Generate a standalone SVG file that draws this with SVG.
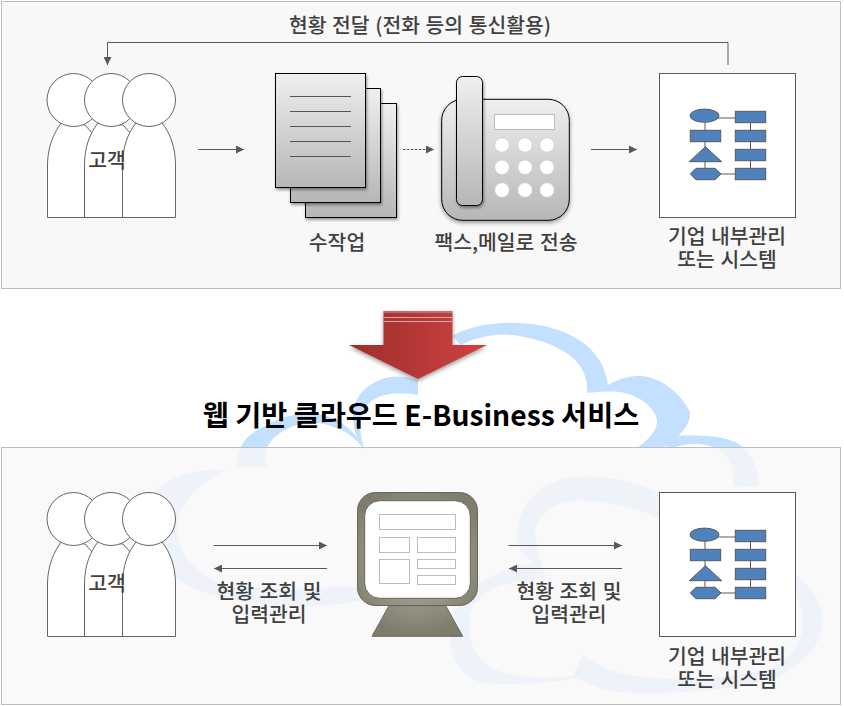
<svg xmlns="http://www.w3.org/2000/svg" xmlns:xlink="http://www.w3.org/1999/xlink" width="844" height="706" viewBox="0 0 844 706">
<style>
text{font-family:"Noto Sans CJK KR","Noto Sans",sans-serif;font-weight:500;fill:#404040;text-anchor:middle;font-size:20.4px;word-spacing:1px}
.title{fill:#000;font-weight:700;font-size:28.3px;word-spacing:0}
.panel{fill:#f7f7f7;fill-opacity:.8;stroke:#bebebe;stroke-width:1}
.cl{fill:#c4e0ff}
.p{fill:#fff;stroke:#666;stroke-width:1}
.conn{fill:none;stroke:#595959;stroke-width:1;marker-end:url(#ah)}
.fs{fill:#4f81bd;stroke:#5a5a5a;stroke-width:1}
.fl{stroke:#5a5a5a;stroke-width:1;fill:none}
.sheet{fill:url(#gs);stroke:#000;stroke-width:1;filter:url(#sh)}
.rule{stroke:#555;stroke-width:1}
.btn{fill:#fff;stroke:#ccc;stroke-width:.8}
.mr{fill:#fff;stroke:#bdbdbd;stroke-width:1}
</style>
<defs>
<marker id="ah" markerUnits="userSpaceOnUse" markerWidth="9" markerHeight="8" refX="8" refY="4" orient="auto"><path d="M0,0L8,4L0,8Z" fill="#595959"/></marker>
<linearGradient id="gs" x1="0" y1="0" x2="0" y2="1"><stop offset="0" stop-color="#efefef"/><stop offset="1" stop-color="#b6b6b6"/></linearGradient>
<linearGradient id="gr" x1="0" y1="0" x2="1" y2="0"><stop offset="0" stop-color="#9c2e2c"/><stop offset="1" stop-color="#d04242"/></linearGradient>
<radialGradient id="gm" gradientUnits="userSpaceOnUse" cx="417" cy="560" r="75"><stop offset="0" stop-color="#bdb9a6"/><stop offset="1" stop-color="#7f7c6c"/></radialGradient>
<filter id="sh" x="-10%" y="-10%" width="125%" height="125%"><feDropShadow dx="1" dy="2" stdDeviation="1.5" flood-color="#000" flood-opacity=".4"/></filter>
<filter id="sh2" x="-10%" y="-10%" width="120%" height="125%"><feDropShadow dx="0" dy="2" stdDeviation="2" flood-color="#000" flood-opacity=".4"/></filter>
<g id="people">
<path class="p" d="M47.5,217.5V165C47.5,147 54,132 62,122L85,125L93,134L100,217.5Z"/>
<circle class="p" cx="73.5" cy="100" r="26.5"/>
<path class="p" d="M84.5,217.5V165C84.5,147 90,133 98,123L123,125L131,134L138,217.5Z"/>
<circle class="p" cx="111" cy="100" r="26.5"/>
<path class="p" d="M122.5,217.5V165C122.5,147 128,133 136,123L162,123C170,133 175.5,147 175.5,165V217.5Z"/>
<circle class="p" cx="149" cy="100" r="26.5"/>
</g>
<g id="flow">
<path class="fl" d="M705,116V174M750.5,116V174M705,118H736M705,174H736"/>
<ellipse class="fs" cx="704.5" cy="115.7" rx="14.5" ry="6.6"/>
<rect class="fs" x="690.3" y="130.3" width="30.4" height="11.4"/>
<path class="fs" d="M705.4,146.7L721.7,161.7H689.3Z"/>
<path class="fs" d="M696,168.3H715L721,174L715,179.7H696L690.3,174Z"/>
<rect class="fs" x="735.3" y="111.3" width="30.4" height="11.4"/>
<rect class="fs" x="735.3" y="130.3" width="30.4" height="11.4"/>
<rect class="fs" x="735.3" y="149.3" width="30.4" height="11.4"/>
<rect class="fs" x="735.3" y="168.3" width="30.4" height="11.4"/>
</g>
</defs>

<g id="cloud">
<path class="cl" d="M452,336C470,326 495,322 519,323C565,325 603,345 608,385L587,393C589,370 575,345 514,335C492,333 472,339 461,345Z"/>
<path class="cl" d="M608,385C620,378 630,376 640,376C660,377 680,392 690,412C691,425 680,437 662,448L637,448C648,440 658,430 657,420C655,408 640,395 620,392C610,391 597,392 587,393Z"/>
<path class="cl" d="M660,445C665,436 680,434 707,436C725,437 735,441 740,445C752,455 760,470 758,487L733,486C735,470 730,458 720,450C710,444 690,441 673,448Z"/>
<path class="cl" d="M517,540C516,515 530,490 560,480C590,472 625,478 662,494L662,520L657,518C630,505 590,497 565,502C545,508 535,520 535,537C537,550 540,560 545,578L533,563C525,555 518,550 517,540Z"/>
<path class="cl" d="M470,590C485,578 510,566 535,563L545,578C525,580 505,583 497,587C480,595 470,605 469,620C467,640 475,655 490,667C510,678 545,680 573,676L583,655C595,665 620,677 657,678C690,680 740,678 773,667C790,660 805,640 803,617C802,605 798,597 790,590L790,572C815,585 825,610 822,628C818,650 800,665 777,677C735,690 680,695 617,692C600,690 585,682 577,678C545,684 510,685 483,683C465,678 450,660 450,637C450,620 455,605 470,590Z"/>
<path class="cl" d="M418,380C395,372 375,378 362,392C352,403 350,420 358,440L364,448C358,425 358,410 373,400C385,392 405,392 418,395Z"/>
<path class="cl" d="M238,467C235,450 245,435 263,427C280,415 310,410 330,417C345,423 358,435 365,450C352,435 345,430 333,427C320,421 300,420 280,433C270,440 262,450 267,467Z"/>
<path class="cl" d="M225,470C195,468 165,478 150,495L150,560L175,577C205,602 280,610 330,605C370,600 420,592 480,582L480,575C420,585 370,588 330,587C300,590 260,588 230,586C205,580 178,560 177,530C175,510 195,485 225,470Z"/>
</g>

<rect id="panel-top" class="panel" style="fill:#f8f8f8;fill-opacity:1" x="1.5" y="1.5" width="839" height="287"/>
<rect id="panel-bottom" class="panel" x="1.5" y="447.5" width="839" height="257"/>

<g id="connectors">
<path class="conn" d="M728,65V42.5H107.5V65"/>
<path class="conn" d="M198.5,149.5H244"/>
<path class="conn" stroke-dasharray="2.5 1.5" d="M403,149.5H434"/>
<path class="conn" d="M591,149.5H637"/>
<path class="conn" d="M213.5,545.5H327"/>
<path class="conn" d="M327,568.5H214"/>
<path class="conn" d="M508.5,545.5H622"/>
<path class="conn" d="M622,568.5H509"/>
</g>

<g id="customer-top"><use xlink:href="#people" href="#people"/><text x="107" y="168">고객</text></g>

<g id="manual-work">
<rect class="sheet" x="305.5" y="103.5" width="91" height="114"/>
<rect class="sheet" x="290.5" y="88.5" width="90" height="114"/>
<rect class="sheet" x="275.5" y="73.5" width="90" height="114"/>
<path class="rule" d="M290,96.5H351M290,111.5H351M290,126.5H351M290,141.5H351M290,156.5H351"/>
<text x="337" y="250">수작업</text>
</g>

<g id="phone">
<rect x="441.7" y="99.3" width="127.6" height="121" rx="21" fill="url(#gs)" stroke="#000" filter="url(#sh2)"/>
<rect x="456.5" y="76.5" width="26" height="129" rx="6" fill="url(#gs)" stroke="#000" filter="url(#sh)"/>
<rect x="494.5" y="114.5" width="60" height="15" fill="#fff" stroke="#bbb"/>
<circle class="btn" cx="502" cy="145" r="7.3"/><circle class="btn" cx="525" cy="145" r="7.3"/><circle class="btn" cx="547" cy="145" r="7.3"/>
<circle class="btn" cx="502" cy="167.3" r="7.3"/><circle class="btn" cx="525" cy="167.3" r="7.3"/><circle class="btn" cx="547" cy="167.3" r="7.3"/>
<circle class="btn" cx="502" cy="190" r="7.3"/><circle class="btn" cx="525" cy="190" r="7.3"/><circle class="btn" cx="547" cy="190" r="7.3"/>
<text x="506" y="250">팩스,메일로 전송</text>
</g>

<g id="system-top">
<rect x="659.5" y="73.5" width="136" height="144" fill="#fff" stroke="#595959"/>
<use xlink:href="#flow" href="#flow"/>
<text x="727" y="244">기업 내부관리</text>
<text x="727" y="267">또는 시스템</text>
</g>

<text id="label-top" x="420" y="33">현황 전달 (전화 등의 통신활용)</text>

<g id="big-arrow">
<path d="M383.5,311H452.5V345H487L418,379L349,345H383.5Z" fill="url(#gr)" filter="url(#sh2)"/>
<path d="M383.5,312H452.5" stroke="#d9a0a0" stroke-width="1"/>
<path d="M383.5,317.5H452.5M383.5,321.5H452.5" stroke="#d8a8a8" stroke-width="1.2"/>
</g>

<text id="title" class="title" x="421" y="426">웹 기반 클라우드 E-Business 서비스</text>

<g id="customer-bottom"><use xlink:href="#people" href="#people" y="419"/><text x="107" y="591">고객</text></g>

<g id="monitor">
<path d="M389,605.7H445.7L462.7,636.3H372Z" fill="url(#gm)" stroke="#666"/>
<rect x="357.5" y="492.5" width="120" height="113" rx="18" fill="url(#gm)" stroke="#666"/>
<rect x="364.7" y="500.7" width="105.6" height="97.6" rx="15" fill="#fff" stroke="#666"/>
<rect class="mr" x="379.5" y="514.5" width="76" height="15"/>
<rect class="mr" x="379.5" y="537.5" width="30" height="15"/>
<rect class="mr" x="417.5" y="537.5" width="38" height="15"/>
<rect class="mr" x="379.5" y="559.5" width="30" height="24"/>
<rect class="mr" x="417.5" y="559.5" width="38" height="9"/>
<rect class="mr" x="417.5" y="575.5" width="38" height="9"/>
</g>

<g id="system-bottom">
<rect x="659.5" y="492.5" width="136" height="144" fill="#fff" stroke="#595959"/>
<use xlink:href="#flow" href="#flow" y="419"/>
<text x="727" y="664">기업 내부관리</text>
<text x="727" y="687">또는 시스템</text>
</g>

<g id="labels-bottom">
<text x="269" y="599">현황 조회 및</text>
<text x="269" y="622">입력관리</text>
<text x="569" y="599">현황 조회 및</text>
<text x="569" y="622">입력관리</text>
</g>
</svg>
